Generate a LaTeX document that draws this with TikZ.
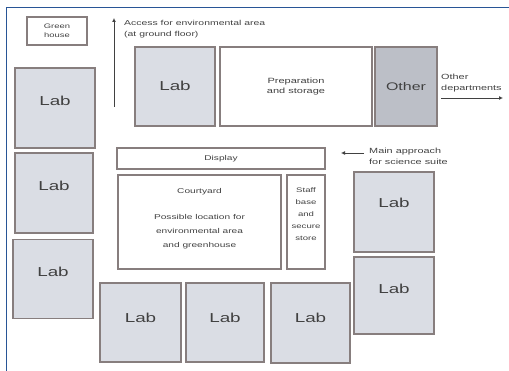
\documentclass[tikz,border=0pt]{standalone}
\usepackage{fontspec}
\setmainfont[FakeStretch=1.45]{Liberation Sans}
\usetikzlibrary{arrows.meta}
\definecolor{wallgray}{RGB}{135,126,126}
\definecolor{labfill}{RGB}{218,221,228}
\definecolor{otherfill}{RGB}{188,191,199}
\definecolor{inkgray}{RGB}{65,65,65}
\definecolor{framebl}{RGB}{40,85,150}
\begin{document}
\begin{tikzpicture}[x=1pt,y=-1pt,
  room/.style={draw=wallgray, line width=1.5pt, inner sep=1pt, text=inkgray, align=center},
  lab/.style={room, fill=labfill, font=\fontsize{13}{14}\selectfont, text depth=14pt},
  plain/.style={room, fill=white, font=\fontsize{7}{8}\selectfont},
  note/.style={text=inkgray, align=left, inner sep=0pt, font=\fontsize{7.5}{11}\selectfont},
  way/.style={draw=inkgray, line width=0.8pt, -{Latex[length=4pt,width=4pt]}}]
\useasboundingbox (0,0) rectangle (509,371);
\draw[framebl, line width=1pt] (6,371) -- (6,8) -- (509,8);
% rooms
\node[plain, font=\fontsize{6.5}{9}\selectfont, minimum width=60, minimum height=28] (green) at (57,31) {Green\\house};
\node[lab, text depth=2pt, minimum width=80, minimum height=79] (labT) at (175,86.5) {Lab};
\node[plain, font=\fontsize{7.6}{10}\selectfont, minimum width=152, minimum height=79] (prep) at (296,86.5) {Preparation\\and storage};
\node[lab, fill=otherfill, font=\fontsize{11}{13}\selectfont, text depth=0pt, minimum width=62, minimum height=79] (other) at (406,86.5) {Other};
\node[lab, minimum width=80, minimum height=80] (labL1) at (55,108) {Lab};
\node[lab, minimum width=78, minimum height=80] (labL2) at (54,193) {Lab};
\node[lab, minimum width=80, minimum height=79] (labL3) at (53,279) {Lab};
\node[plain, minimum width=208, minimum height=21] (display) at (221,158.5) {Display};
\node[plain, font=\fontsize{7}{14}\selectfont, minimum width=163, minimum height=94] (court) at (199.5,222) {Courtyard\\[12pt]Possible location for\\environmental area\\and greenhouse\\[-6pt]\mbox{}};
\node[plain, font=\fontsize{6.6}{11.8}\selectfont, minimum width=38, minimum height=94] (staff) at (306,222) {Staff\\base\\and\\secure\\store\\[4pt]\mbox{}};
\node[lab, text depth=18pt, minimum width=80, minimum height=80] (labR1) at (394,212) {Lab};
\node[lab, minimum width=80, minimum height=77] (labR2) at (394,295.5) {Lab};
\node[lab, text depth=10pt, minimum width=81, minimum height=79] (labB1) at (140.5,322.5) {Lab};
\node[lab, text depth=10pt, minimum width=78, minimum height=79] (labB2) at (225,322.5) {Lab};
\node[lab, text depth=10pt, minimum width=79, minimum height=80] (labB3) at (310.5,323) {Lab};
% access arrows
\coordinate (accS) at (114,107);
\coordinate (accE) at (114,18);
\coordinate (othS) at (441,98);
\coordinate (othE) at (503,98);
\coordinate (mainS) at (364,153);
\coordinate (mainE) at (341,153);
\path[way] (accS) -- (accE);
\path[way] (othS) -- (othE);
\path[way] (mainS) -- (mainE);
\node[note, font=\fontsize{7.2}{11}\selectfont, anchor=west] (accT) at (124,29) {Access for environmental area\\(at ground floor)};
\node[note, anchor=west] (othT) at (441,83) {Other\\departments};
\node[note, anchor=west] (mainT) at (369,156) {Main approach\\for science suite};
\end{tikzpicture}
\end{document}
